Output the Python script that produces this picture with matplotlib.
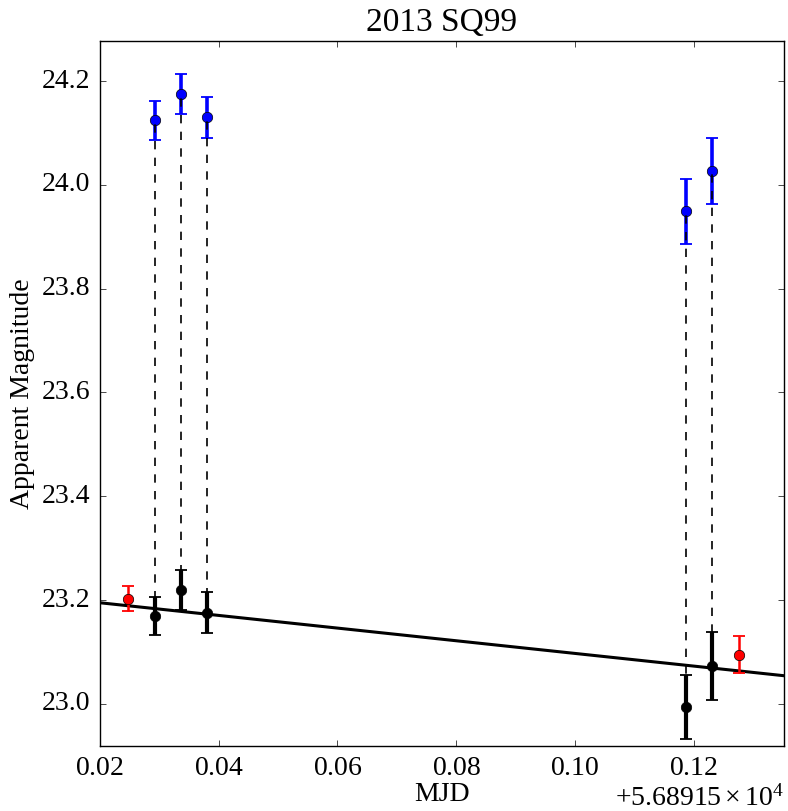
import numpy as np
import matplotlib.pyplot as plt

plt.style.use('classic')
plt.rcParams['font.family'] = ['Liberation Serif', 'DejaVu Serif']
plt.rcParams['mathtext.fontset'] = 'stix'
plt.rcParams['figure.facecolor'] = 'white'

# MJD offset
mjd0 = 56891.5

# blue band (paired)
t_pair = np.array([0.02922, 0.03360, 0.03808, 0.11869, 0.12305])
mag_blue = np.array([24.124, 24.175, 24.130, 23.949, 24.027])
err_blue = np.array([0.038, 0.039, 0.040, 0.063, 0.064])

# black points (paired)
mag_black = np.array([23.169, 23.220, 23.176, 22.994, 23.073])
err_black = np.array([0.037, 0.039, 0.039, 0.062, 0.065])

# red points
t_red = np.array([0.02472, 0.12755])
mag_red = np.array([23.203, 23.095])
err_red = np.array([0.024, 0.036])

# linear trend: mag = intercept + slope * (t - 0.02)
slope = -1.22
intercept = 23.195

xlim = (0.02, 0.1352)
ylim = (22.919, 24.277)

fig = plt.figure(figsize=(7.88, 8.11), dpi=100)
ax = fig.add_axes([0.1269, 0.0801, 0.8680, 0.8693])

x = mjd0 + t_pair

ax.errorbar(x, mag_blue, yerr=err_blue, fmt='o', color='blue', mfc='blue', mec='black',
            ms=7.5, elinewidth=2.6, capsize=4, capthick=1.3, ecolor='blue', zorder=3)
ax.errorbar(x, mag_black, yerr=err_black, fmt='o', color='black', mfc='black', mec='black',
            ms=7.5, elinewidth=3.0, capsize=4, capthick=1.3, ecolor='black', zorder=3)
ax.errorbar(mjd0 + t_red, mag_red, yerr=err_red, fmt='o', color='red', mfc='red', mec='black',
            ms=7.5, elinewidth=1.8, capsize=4, capthick=1.3, ecolor='red', zorder=3)

for xi, lo, hi in zip(x, mag_black, mag_blue):
    ax.plot([xi, xi], [lo, hi], 'k--', lw=1.2, zorder=4)

xl = np.array([mjd0 + xlim[0], mjd0 + xlim[1]])
ax.plot(xl, intercept + slope * (xl - mjd0 - 0.02), 'k-', lw=2.2, zorder=2)

ax.set_xlim(mjd0 + xlim[0], mjd0 + xlim[1])
ax.set_ylim(*ylim)
ax.set_xticks(mjd0 + np.array([0.02, 0.04, 0.06, 0.08, 0.10, 0.12]))
ax.set_yticks([23.0, 23.2, 23.4, 23.6, 23.8, 24.0, 24.2])
ax.ticklabel_format(axis='x', useOffset=mjd0, useMathText=True)
ax.ticklabel_format(axis='y', useOffset=False)
ax.tick_params(labelsize=20, pad=7)
ax.xaxis.get_offset_text().set_fontsize(20)

ax.set_title('2013 SQ99', fontsize=24, y=1.005)
ax.set_xlabel('MJD', fontsize=20, labelpad=1)
ax.set_ylabel('Apparent Magnitude', fontsize=20)

fig.savefig('out.png', dpi=100)
